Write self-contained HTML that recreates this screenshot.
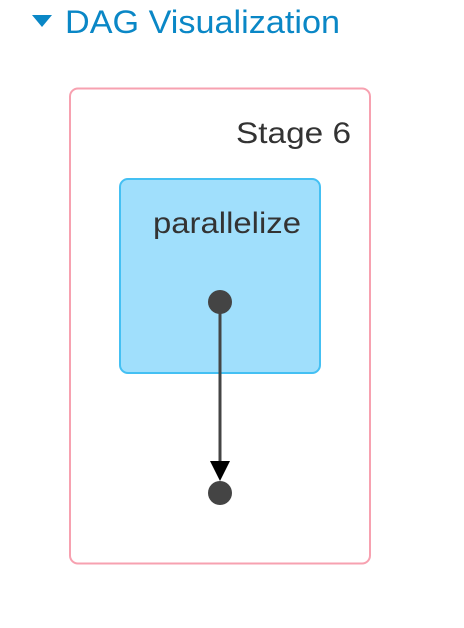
<!DOCTYPE html>
<html><head><meta charset="utf-8"><style>
html,body{margin:0;padding:0;background:#fff;width:464px;height:628px;overflow:hidden}
svg{display:block}
</style></head><body>
<svg width="464" height="628">
<polygon points="32,15 52,15 42,27" fill="#0a87c6"/>
<text x="65" y="33" font-family="Liberation Sans, sans-serif" font-size="32" fill="#0a87c6" textLength="275" lengthAdjust="spacingAndGlyphs">DAG Visualization</text>
<rect x="70" y="88.5" width="300" height="475" rx="8" fill="#fff" stroke="#f7a1b0" stroke-width="2"/>
<text x="236" y="143" font-family="Liberation Sans, sans-serif" font-size="30" fill="#333" textLength="115" lengthAdjust="spacingAndGlyphs">Stage 6</text>
<rect x="120" y="179" width="200" height="194" rx="8" fill="#a0dffc" stroke="#44c0f3" stroke-width="2"/>
<text x="153" y="233" font-family="Liberation Sans, sans-serif" font-size="30" fill="#333" textLength="148" lengthAdjust="spacingAndGlyphs">parallelize</text>
<line x1="220" y1="302" x2="220" y2="468" stroke="#444" stroke-width="3"/>
<polygon points="210,461 230,461 220,481" fill="#000"/>
<circle cx="220" cy="302" r="12" fill="#444"/>
<circle cx="220" cy="493" r="12" fill="#444"/>
</svg>
</body></html>
